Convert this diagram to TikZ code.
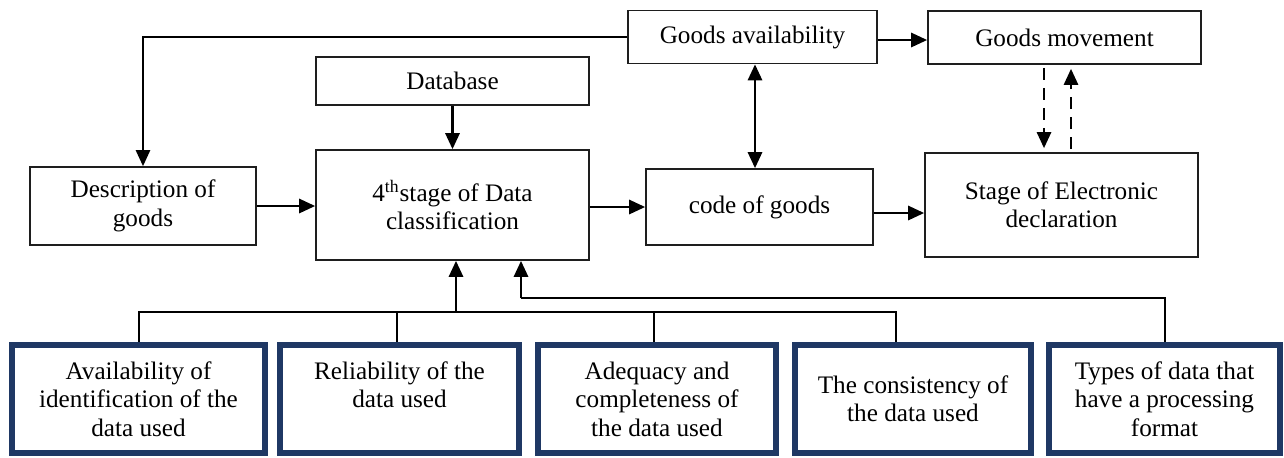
\documentclass[tikz,border=0pt]{standalone}
\usepackage{fontspec}
\setmainfont{Liberation Serif}
\usetikzlibrary{arrows.meta,calc}
\definecolor{navy}{RGB}{31,56,100}
\definecolor{edge}{RGB}{30,30,30}
\begin{document}
\begin{tikzpicture}[x=0.5pt,y=-0.5pt,
  txt/.style={align=center,font=\fontsize{12.6}{14.2}\selectfont,inner sep=0pt},
  box/.style={txt,draw=edge,line width=0.8pt},
  dbox/.style={txt,draw=navy,line width=3pt,minimum height=54pt},
  arr/.style={line width=1.4pt,-{Triangle[length=8pt,width=7pt]}},
  darr/.style={line width=1.4pt,{Triangle[length=8pt,width=7pt]}-{Triangle[length=8pt,width=7pt]}},
  dasharr/.style={line width=1.3pt,dash pattern=on 6pt off 4pt,-{Triangle[length=8pt,width=7pt]}},
  thinline/.style={line width=1pt}]
\fill[white] (0,0) rectangle (1284,457);
\useasboundingbox (0,0) rectangle (1284,457);
% top row
\node[box,minimum width=124.5pt,minimum height=26.5pt] (ga) at (752.5,37) {Goods availability};
\node[box,minimum width=136.5pt,minimum height=26.5pt] (gm) at (1064.5,37.5) {Goods movement};
\node[box,minimum width=136.5pt,minimum height=24pt] (db) at (452.5,81) {Database};
% middle row
\node[box,minimum width=113pt,minimum height=39pt] (desc) at (143,206) {Description of\\goods};
\node[box,minimum width=136.5pt,minimum height=55pt] (cls) at (452.5,205) {4\textsuperscript{th}stage of Data\\classification};
\node[box,minimum width=113.5pt,minimum height=38pt] (code) at (759.5,207) {code of goods};
\node[box,minimum width=136.5pt,minimum height=52pt] (st) at (1061.5,205) {Stage of Electronic\\declaration};
% bottom row
\node[dbox,minimum width=126.5pt] (b1) at (138.5,399) {Availability of\\identification of the\\data used};
\node[dbox,minimum width=119.5pt] (b2) at (399.5,399) {Reliability of the\\data used\\~};
\node[dbox,minimum width=119pt] (b3) at (657,399) {Adequacy and\\completeness of\\the data used};
\node[dbox,minimum width=118pt] (b4) at (913,399) {The consistency of\\the data used};
\node[dbox,minimum width=115.5pt] (b5) at (1164.5,399) {Types of data that\\have a processing\\format};
% connectors
\draw[arr,line width=1.2pt] (ga.west) -| (desc.north);
\draw[arr] ([yshift=-1.5pt]ga.east) -- ([yshift=-1.5pt]ga.east -| gm.west);
\draw[arr] (db) -- (cls);
\draw[arr] (desc.east) -- (desc.east -| cls.west);
\draw[arr] (code.west -| cls.east) -- (code.west);
\draw[arr] ([yshift=-3pt]code.east) -- ([yshift=-3pt]code.east -| st.west);
\draw[darr] ([xshift=1.25pt]ga.south) -- ([xshift=1.25pt]ga.south |- code.north);
\draw[dasharr,shorten >=2pt,shorten <=1.5pt] ([xshift=-10.25pt]gm.south) -- ([xshift=-10.25pt]gm.south |- st.north);
\draw[dasharr,shorten >=2pt,shorten <=1.5pt] ([xshift=4.75pt]st.north) -- ([xshift=4.75pt]st.north |- gm.south);
% bottom bus
\coordinate (bus) at (456,312);
\coordinate (elb) at (521,298);
\draw[thinline] (b1.north) |- (bus);
\draw[thinline] ([xshift=-1.25pt]b2.north) |- (bus);
\draw[thinline] ([xshift=-1.5pt]b3.north) |- (bus);
\draw[thinline] ([xshift=-8.5pt]b4.north) |- (bus);
\draw[arr] (bus) -- (bus |- cls.south);
\draw[thinline] (b5.north) |- (elb);
\draw[arr] (elb) -- (elb |- cls.south);
\end{tikzpicture}
\end{document}
